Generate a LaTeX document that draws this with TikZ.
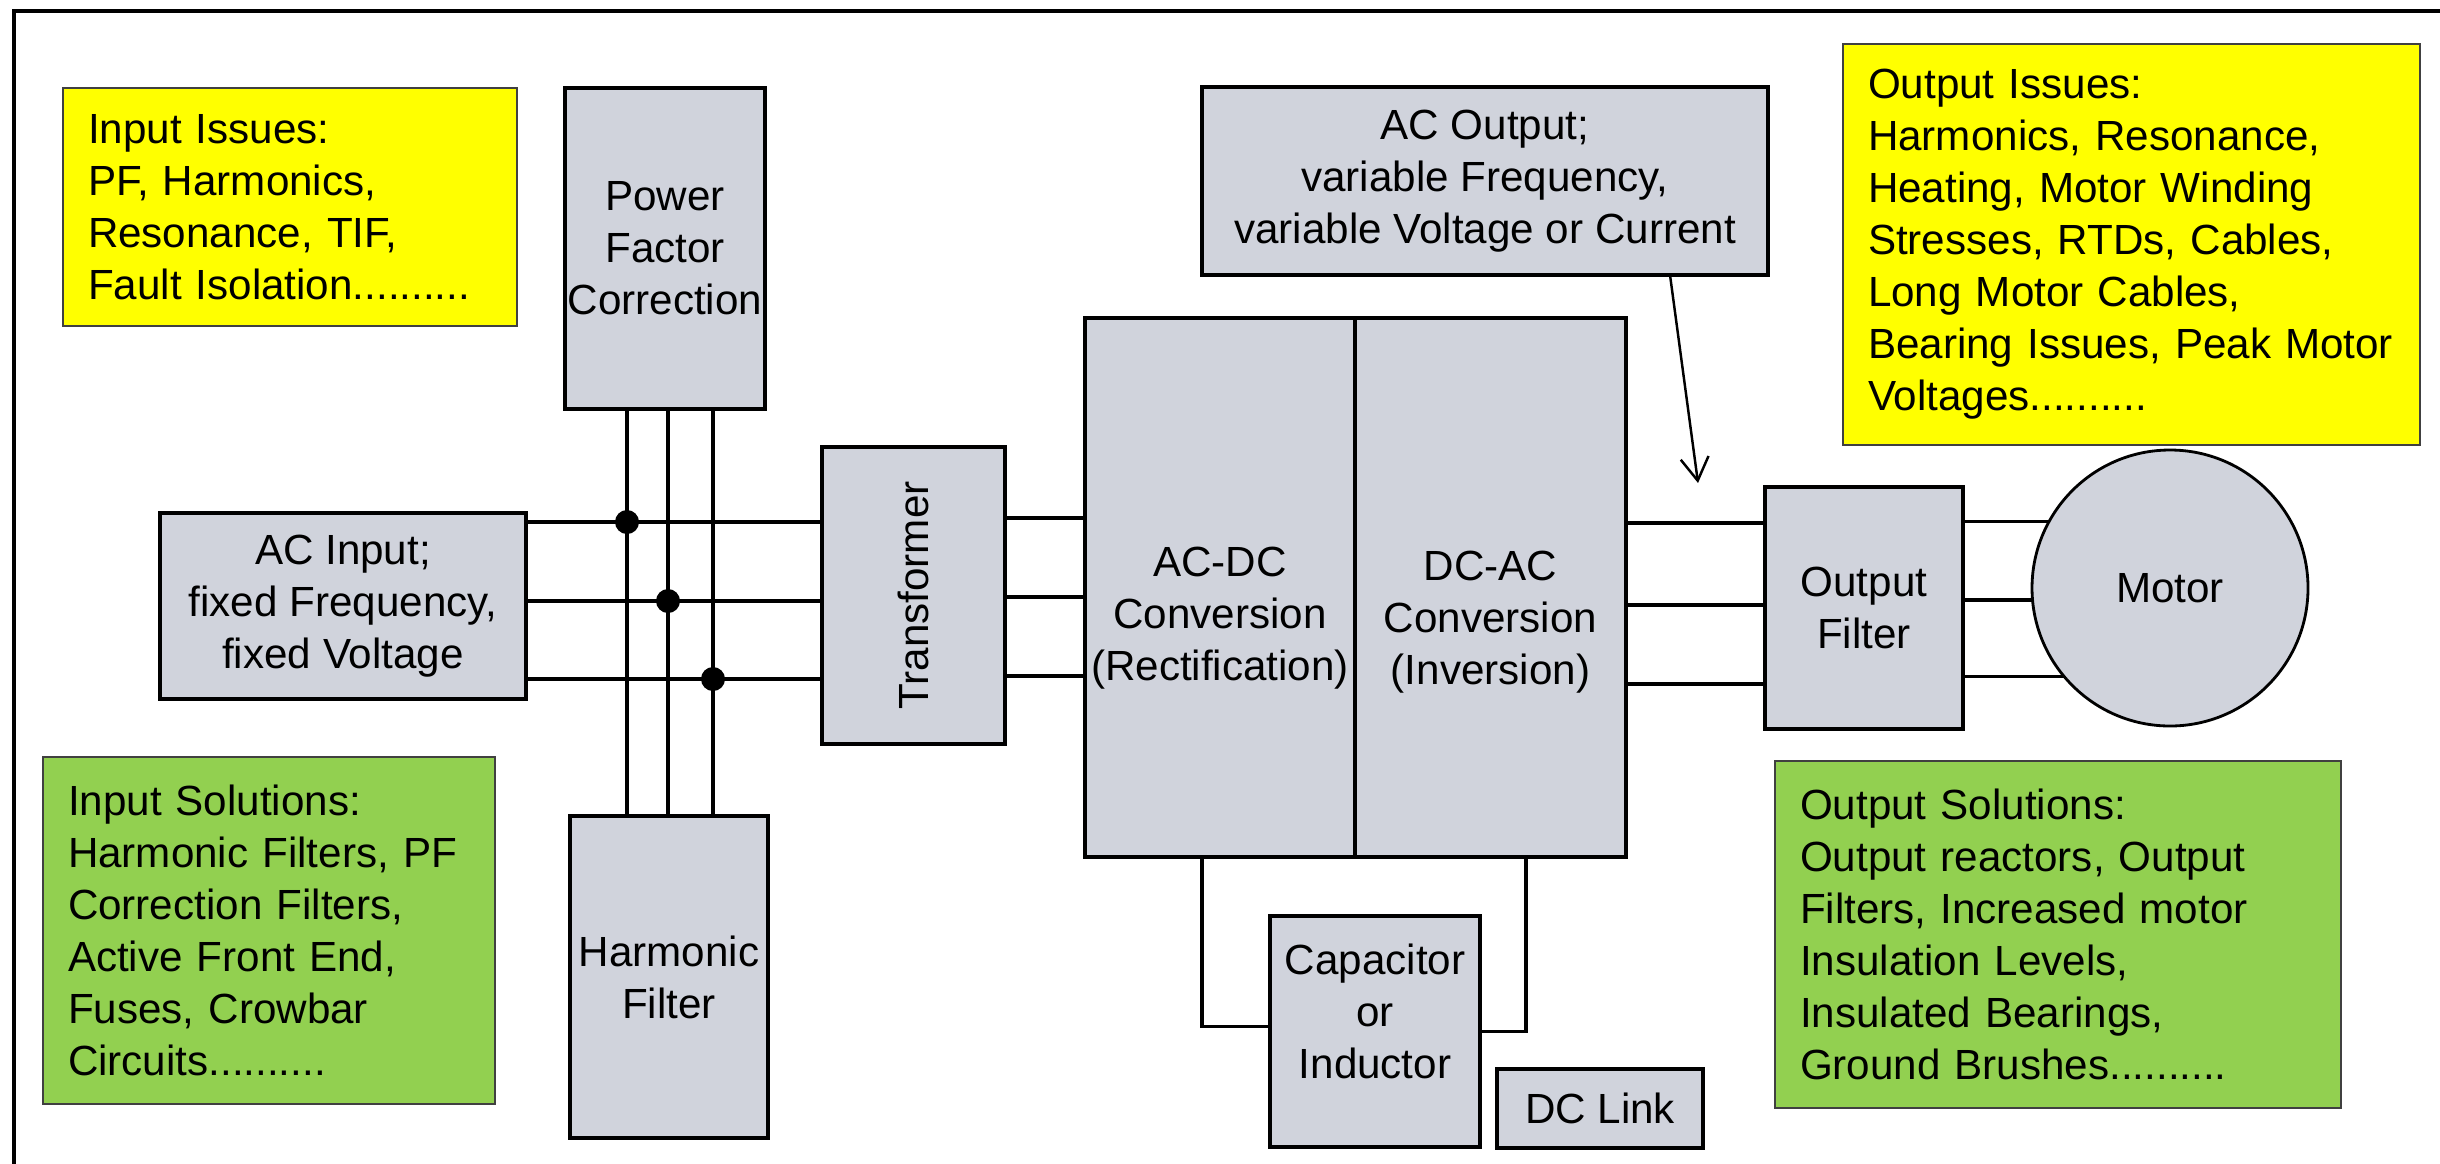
\documentclass[tikz,border=0pt]{standalone}
\usepackage{fontspec}
\usepackage{graphicx}
\setmainfont{Liberation Sans}
\usetikzlibrary{arrows.meta,positioning}
\definecolor{blkgray}{HTML}{D0D3DC}
\definecolor{issue}{HTML}{FFFF00}
\definecolor{fix}{HTML}{92D050}
\tikzset{
  blk/.style={draw,line width=1pt,fill=blkgray,align=center,inner sep=0pt,outer sep=0pt,font=\fontsize{12}{14.8}\selectfont},
  note/.style={draw=black!75,line width=0.7pt,inner xsep=0.25cm,inner ysep=0pt,outer sep=0pt,align=left,text width=#1,font=\fontsize{12}{14.8}\selectfont},
  wire/.style={line width=0.9pt},
  pointer/.style={-{Straight Barb[length=2.3mm,width=2.8mm]},line width=0.7pt},
}

\begin{document}
\begin{tikzpicture}
\useasboundingbox (0,0) rectangle (24.40,-11.63);
\clip (0,0) rectangle (24.40,-11.63);
\draw[line width=1pt] (0.14,-0.11) rectangle (25,-12);
% issue and solution notes
\node[note=4.04cm,fill=issue,minimum height=2.38cm] (inissue) at (2.90,-2.07)
  {Input Issues:\\PF, Harmonics,\\Resonance, TIF,\\Fault Isolation..........};
\node[note=4.02cm,fill=fix,minimum height=3.47cm] (insol) at (2.69,-9.305)
  {Input Solutions:\\Harmonic Filters, PF\\Correction Filters,\\Active Front End,\\Fuses, Crowbar\\Circuits..........};
\node[note=5.27cm,fill=issue,minimum height=4.01cm] (outissue) at (21.315,-2.445)
  {Output Issues:\\Harmonics, Resonance,\\Heating, Motor Winding\\Stresses, RTDs, Cables,\\Long Motor Cables,\\Bearing Issues, Peak Motor\\Voltages..........};
\node[note=5.16cm,fill=fix,minimum height=3.47cm] (outsol) at (20.58,-9.345)
  {Output Solutions:\\Output reactors, Output\\Filters, Increased motor\\Insulation Levels,\\Insulated Bearings,\\Ground Brushes..........};
% drive blocks
\node[blk,minimum width=3.66cm,minimum height=1.86cm] (acin) at (3.43,-6.06) {AC Input;\\fixed Frequency,\\fixed Voltage};
\node[blk,minimum width=2.00cm,minimum height=3.21cm] (pfc) at (6.65,-2.485) {Power\\Factor\\Correction};
\node[blk,minimum width=1.98cm,minimum height=3.22cm] (hf) at (6.69,-9.77) {Harmonic\\Filter};
\node[blk,minimum width=1.83cm,minimum height=2.97cm] (trans) at (9.135,-5.955) {\rotatebox{90}{Transformer}};
\node[blk,minimum width=2.70cm,minimum height=5.39cm] (acdc) at (12.20,-5.875) {};
\node[blk,minimum width=2.71cm,minimum height=5.39cm,right=0pt of acdc] (dcac) {};
\node[align=center,font=\fontsize{12}{14.8}\selectfont] (acdctxt) at ([yshift=-0.31cm]acdc.center) {AC-DC\\Conversion\\(Rectification)};
\node[align=center,font=\fontsize{12}{14.8}\selectfont] (dcactxt) at ([yshift=-0.35cm]dcac.center) {DC-AC\\Conversion\\(Inversion)};
\node[blk,minimum width=2.10cm,minimum height=2.31cm] (cap) at (13.75,-10.315) {};
\node[align=center,font=\fontsize{12}{14.8}\selectfont] (captxt) at ([yshift=0.2cm]cap.center) {Capacitor\\or\\Inductor};
\node[blk,minimum width=2.06cm,minimum height=0.79cm] (dclink) at (16.00,-11.085) {DC Link};
\node[blk,minimum width=5.66cm,minimum height=1.88cm] (acout) at (14.85,-1.81) {AC Output;\\variable Frequency,\\variable Voltage or Current};
\node[blk,minimum width=1.98cm,minimum height=2.42cm] (ofilt) at (18.64,-6.08) {Output\\Filter};
\node[blk,circle,line width=0.8pt,minimum size=2.76cm] (motor) at (21.70,-5.88) {Motor};
% three-phase wiring
\foreach \y/\x in {5.22/6.27,6.01/6.68,6.79/7.13} {
  \draw[wire] (acin.east |- 0,-\y) -- (trans.west |- 0,-\y);
  \fill (\x,-\y) circle (0.12);
}
\foreach \x in {6.27,6.68,7.13} \draw[wire] (pfc.south -| \x,0) -- (hf.north -| \x,0);
\foreach \y in {5.18,5.97,6.76} \draw[wire] (trans.east |- 0,-\y) -- (acdc.west |- 0,-\y);
\foreach \y in {5.23,6.05,6.84} \draw[wire] (dcac.east |- 0,-\y) -- (ofilt.west |- 0,-\y);
\foreach \a in {151,185,220} \draw[wire] (motor.\a -| ofilt.east) -- (motor.\a);
% dc link
\draw[wire] (acdc.south -| 12.02,0) |- ([yshift=0.05cm]cap.west);
\draw[wire] (dcac.south -| 15.26,0) |- (cap.east);
\coordinate (acpt) at (16.98,-4.83);
\draw[pointer] (acout.south -| 16.70,0) -- (acpt);
\end{tikzpicture}
\end{document}
